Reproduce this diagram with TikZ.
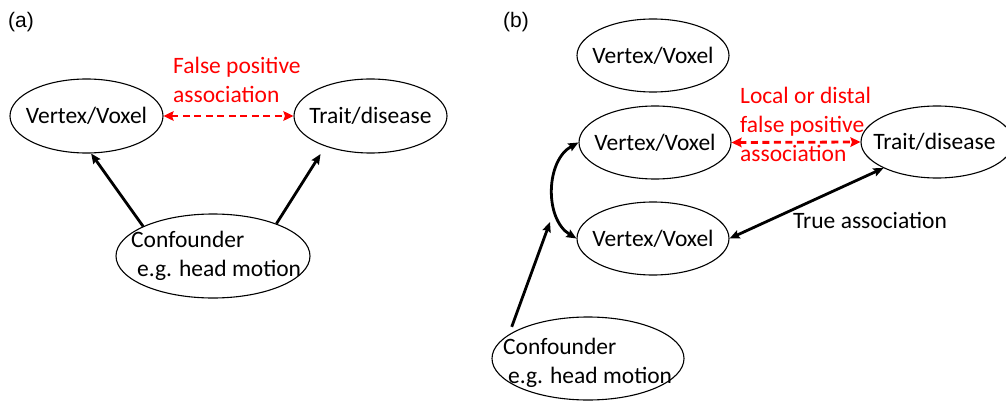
\documentclass[tikz,border=0pt]{standalone}
\usepackage{fontspec}
\setmainfont{Carlito}
\newfontfamily\panelfont{Liberation Sans}
\usetikzlibrary{shapes.geometric,arrows.meta}
\begin{document}
\begin{tikzpicture}[x=1pt,y=-1pt,
  ell/.style={ellipse,draw,line width=1.1pt,inner sep=0pt,font=\fontsize{23.5}{29}\selectfont},
  txt/.style={font=\fontsize{23.5}{29}\selectfont,inner sep=0pt,align=left},
  panel/.style={font=\panelfont\fontsize{21}{25}\selectfont,inner sep=0pt,anchor=base west},
  tip/.tip={Stealth[length=10pt,width=8.5pt,inset=1.5pt]},
  rtip/.tip={Stealth[length=10pt,width=9.5pt,inset=1.5pt]},
  arr/.style={line width=2.8pt,-tip},
  darr/.style={line width=2.8pt,tip-tip},
  fp/.style={red,line width=2.8pt,dash pattern=on 7pt off 4.5pt,rtip-rtip}]
\useasboundingbox (0,0) rectangle (1006,401);
\clip (0,0) rectangle (1006,401);

% panel (a)
\node[panel] (pa) at (8,28) {(a)};
\node[ell,minimum width=153pt,minimum height=74pt] (va) at (86.5,116) {\makebox[0pt]{Vertex/Voxel}};
\node[ell,minimum width=153pt,minimum height=74pt] (ta) at (370.5,116) {\makebox[0pt]{Trait/disease}};
\node[ell,minimum width=194pt,minimum height=84pt] (ca) at (213,256) {};
\node[txt,anchor=north west] (cat) at (131,230.5) {Confounder\\\hspace*{6pt}e.g. head motion};
\node[txt,anchor=north west,red] (fpa) at (173,56.5) {False positive\\association};
\draw[fp] (va.east) -- (ta.west);
\draw[arr] (ca.157) -- (va.-83);
\draw[arr,shorten >=9pt] (ca.27) -- (ta.-146);

% panel (b)
\node[panel] (pb) at (503,28) {(b)};
\node[ell,minimum width=152pt,minimum height=73pt] (vt) at (653,55.5) {\makebox[0pt]{Vertex/Voxel}};
\node[ell,minimum width=152pt,minimum height=73pt] (vm) at (655,142.5) {\makebox[0pt]{Vertex/Voxel}};
\node[ell,minimum width=152pt,minimum height=73pt] (vb) at (653,238.5) {\makebox[0pt]{Vertex/Voxel}};
\node[ell,minimum width=152pt,minimum height=72pt] (tb) at (937,142) {\makebox[0pt]{\hspace*{-5pt}Trait/disease}};
\node[ell,minimum width=192pt,minimum height=83pt] (cb) at (588,358.5) {};
\node[txt,anchor=north west] (cbt) at (503,337.5) {Confounder\\\hspace*{5pt}e.g. head motion};
\node[txt,anchor=north west,red] (fpb) at (740,86.5) {Local or distal\\false positive\\association};
\node[txt,anchor=base west] (ta2) at (793,228) {True association};
\coordinate (cbend) at (550,222);
\draw[fp] (vm.east) -- (tb.west);
\draw[darr] (vm.west) to[bend right=60] (vb.west);
\draw[darr] (vb.east) -- (tb.-154);
\draw[arr,shorten <=8pt] (cb.163) -- (cbend);
\end{tikzpicture}
\end{document}
